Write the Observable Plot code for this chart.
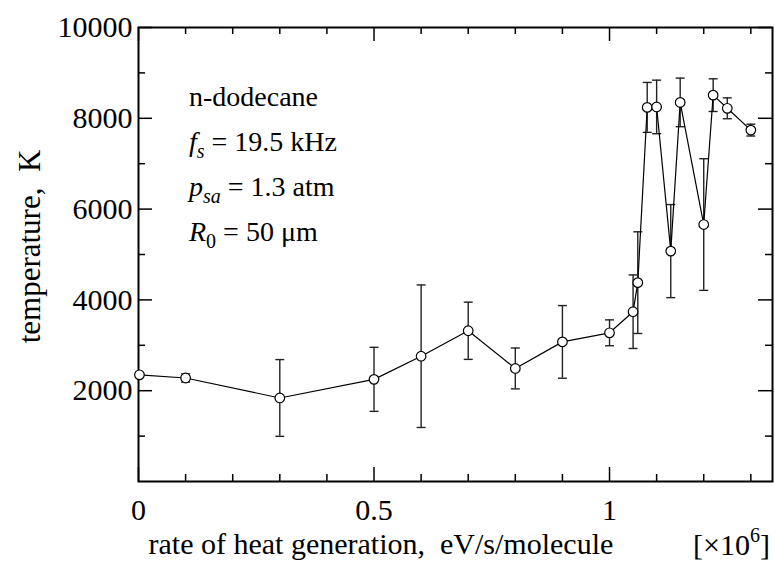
<!DOCTYPE html>
<html><head><meta charset="utf-8">
<script src="https://cdn.jsdelivr.net/npm/d3@7"></script>
<script src="https://cdn.jsdelivr.net/npm/@observablehq/plot@0.6"></script>
<style>body{margin:0;background:#fff} #chart{width:775px;height:562px}
#chart svg text, #chart svg tspan { font-family: "Liberation Serif", "DejaVu Serif", serif; }</style>
</head><body><div id="chart"></div>
<script>
// rate of heat generation [x10^6 eV/s/molecule]
const heatRate    = [0.002, 0.1, 0.3, 0.5, 0.6, 0.7, 0.8, 0.9, 1.0, 1.05, 1.06, 1.08, 1.1, 1.13, 1.15, 1.2, 1.22, 1.25, 1.3];
// temperature [K]
const temperature = [2350, 2280, 1840, 2250, 2760, 3320, 2490, 3075, 3275, 3740, 4380, 8240, 8250, 5075, 8350, 5660, 8510, 8220, 7740];
// error (half-length of bar) [K]
const tempError   = [0, 90, 845, 705, 1570, 630, 450, 800, 285, 810, 1120, 550, 590, 1025, 535, 1450, 360, 230, 130];

const xTickLabels = [0, 0.5, 1];
const xMinorTicks = [0.1, 0.2, 0.3, 0.4, 0.6, 0.7, 0.8, 0.9, 1.1, 1.2, 1.3];
const yTickLabels = [2000, 4000, 6000, 8000, 10000];
const yMinorTicks = [1000, 3000, 5000, 7000, 9000];
const xDomain = [0, 1.346];
const yDomain = [0, 10000];
const xLabel = "rate of heat generation,\u00a0 eV/s/molecule";
const yLabel = "temperature,\u00a0 K";

const data = heatRate.map((x, i) => ({x, y: temperature[i], lo: temperature[i] - tempError[i], hi: temperature[i] + tempError[i], e: tempError[i]}));
const errData = data.filter(d => d.e > 0);

const W = 775, H = 562, mL = 138, mT = 27, mR = 3, mB = 81;
const innerW = W - mL - mR, innerH = H - mT - mB;
const minorLen = 7, majorLen = 14;
const cap = {draw(ctx) { ctx.moveTo(-4.5, 0); ctx.lineTo(4.5, 0); }};
const ink = "#000";
const ff = "Liberation Serif";

const plot = Plot.plot({
  width: W, height: H,
  marginLeft: mL, marginTop: mT, marginRight: mR, marginBottom: mB,
  style: {fontFamily: "Liberation Serif, DejaVu Serif, serif", fontSize: "30px", background: "white", color: ink},
  x: {domain: xDomain, axis: null},
  y: {domain: yDomain, axis: null},
  marks: [
    // inward ticks
    Plot.tickX(xMinorTicks, {x: d => d, insetTop: innerH - minorLen, stroke: ink, strokeWidth: 1.5}),
    Plot.tickX(xTickLabels, {x: d => d, insetTop: innerH - majorLen, stroke: ink, strokeWidth: 1.5}),
    Plot.tickX(xMinorTicks, {x: d => d, insetBottom: innerH - minorLen, stroke: ink, strokeWidth: 1.5}),
    Plot.tickX(xTickLabels, {x: d => d, insetBottom: innerH - majorLen, stroke: ink, strokeWidth: 1.5}),
    Plot.tickY(yMinorTicks, {y: d => d, insetRight: innerW - minorLen, stroke: ink, strokeWidth: 1.5}),
    Plot.tickY(yTickLabels, {y: d => d, insetRight: innerW - majorLen, stroke: ink, strokeWidth: 1.5}),
    Plot.tickY(yMinorTicks, {y: d => d, insetLeft: innerW - minorLen, stroke: ink, strokeWidth: 1.5}),
    Plot.tickY(yTickLabels, {y: d => d, insetLeft: innerW - majorLen, stroke: ink, strokeWidth: 1.5}),
    Plot.frame({stroke: ink, strokeWidth: 2}),
    // tick labels
    Plot.text(xTickLabels, {x: d => d, frameAnchor: "bottom", textAnchor: "middle", dy: 38, text: d => String(d), fontFamily: ff, fontSize: 30, fill: ink}),
    Plot.text(yTickLabels, {y: d => d, frameAnchor: "left", dx: -6, textAnchor: "end", text: d => String(d), fontFamily: ff, fontSize: 30, fill: ink}),
    // axis labels
    Plot.text([xLabel], {frameAnchor: "bottom-left", textAnchor: "start", dx: 10, dy: 72, text: d => d, fontFamily: ff, fontSize: 30, fill: ink}),
    Plot.text([yLabel], {frameAnchor: "left", textAnchor: "middle", rotate: -90, dx: -108, dy: -8, text: d => d, fontFamily: ff, fontSize: 31, fill: ink}),
    // error bars
    Plot.ruleX(errData, {x: "x", y1: "lo", y2: "hi", stroke: "#222", strokeWidth: 1.4}),
    Plot.dot(errData, {x: "x", y: "lo", symbol: cap, stroke: "#222", strokeWidth: 1.4}),
    Plot.dot(errData, {x: "x", y: "hi", symbol: cap, stroke: "#222", strokeWidth: 1.4}),
    // line + points
    Plot.line(data, {x: "x", y: "y", stroke: ink, strokeWidth: 1.2}),
    Plot.dot(data, {x: "x", y: "y", r: 4.8, fill: "white", stroke: ink, strokeWidth: 1.2})
  ]
});
document.getElementById("chart").appendChild(plot);

// rich-text annotations
const svg = d3.select(plot);
const ann = svg.append("g").attr("font-family", ff).attr("font-size", 28).attr("fill", ink).attr("text-anchor", "start");
const lines = [
  [["n-dodecane", ""]],
  [["f", "i"], ["s", "is"], [" = 19.5 kHz", ""]],
  [["p", "i"], ["sa", "is"], [" = 1.3 atm", ""]],
  [["R", "i"], ["0", "s"], [" = 50 \u03bcm", ""]]
];
const baselines = [106, 151, 196, 241];
lines.forEach((parts, li) => {
  const t = ann.append("text").attr("x", 189).attr("y", baselines[li]);
  let sub = false;
  parts.forEach(([s, st]) => {
    const ts = t.append("tspan").text(s);
    if (st.includes("i")) ts.attr("font-style", "italic");
    if (st.includes("s")) { ts.attr("font-size", 20).attr("dy", sub ? 0 : 7); sub = true; }
    else if (sub) { ts.attr("dy", -7); sub = false; }
  });
});
// multiplier
const mt = svg.append("text").attr("font-family", ff).attr("font-size", 30).attr("fill", ink)
  .attr("text-anchor", "start").attr("x", 693).attr("y", 555);
mt.append("tspan").text("[\u00d710");
mt.append("tspan").text("6").attr("font-size", 20).attr("dy", -13);
mt.append("tspan").text("]").attr("dy", 13);
</script>
</body></html>
